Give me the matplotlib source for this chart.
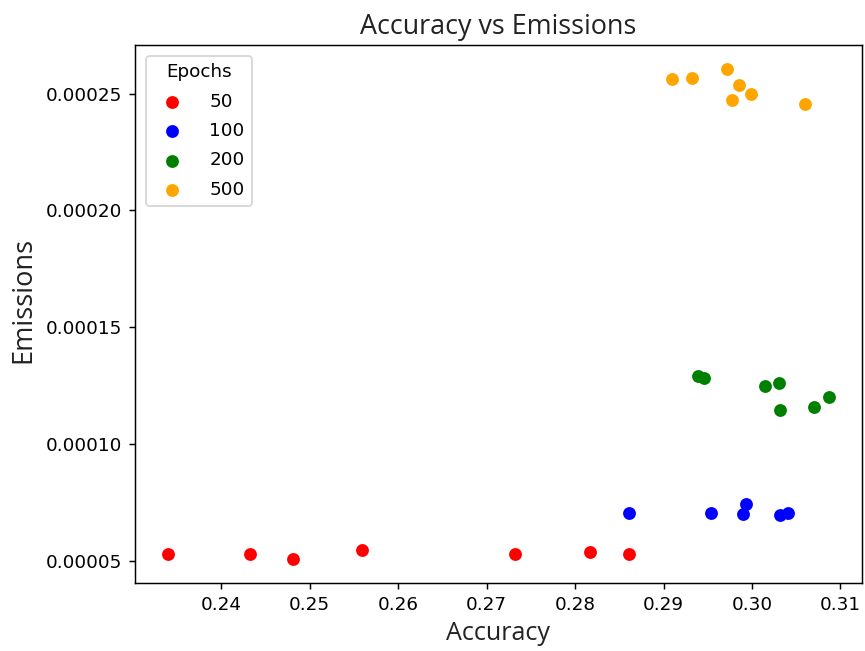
import matplotlib
matplotlib.use("Agg")
import matplotlib.pyplot as plt

epochs = ["50", "100", "200", "500"]
colors = ["red", "blue", "green", "orange"]

acc_50 = [0.2340, 0.2433, 0.2481, 0.2559, 0.2732, 0.2817, 0.2861]
em_50 = [5.29e-5, 5.29e-5, 5.10e-5, 5.46e-5, 5.29e-5, 5.40e-5, 5.29e-5]

acc_100 = [0.2861, 0.2954, 0.2990, 0.2993, 0.3032, 0.3041]
em_100 = [7.03e-5, 7.03e-5, 7.02e-5, 7.44e-5, 6.97e-5, 7.04e-5]

acc_200 = [0.2939, 0.2946, 0.3015, 0.3031, 0.3032, 0.3070, 0.3087]
em_200 = [1.290e-4, 1.281e-4, 1.247e-4, 1.260e-4, 1.147e-4, 1.158e-4, 1.200e-4]

acc_500 = [0.2910, 0.2932, 0.2972, 0.2985, 0.2977, 0.2999, 0.3060]
em_500 = [2.562e-4, 2.568e-4, 2.603e-4, 2.538e-4, 2.471e-4, 2.496e-4, 2.454e-4]

series = [(acc_50, em_50), (acc_100, em_100), (acc_200, em_200), (acc_500, em_500)]

xticks = [0.24, 0.25, 0.26, 0.27, 0.28, 0.29, 0.30, 0.31]
xticklabels = ["0.24", "0.25", "0.26", "0.27", "0.28", "0.29", "0.30", "0.31"]
yticks = [0.00005, 0.00010, 0.00015, 0.00020, 0.00025]
yticklabels = ["0.00005", "0.00010", "0.00015", "0.00020", "0.00025"]

dpi = 132
fig = plt.figure(figsize=(865 / dpi, 651 / dpi), dpi=dpi)
ax = fig.add_axes([135 / 865, 1 - 583 / 651, (862 - 135) / 865, (583 - 45) / 651])

for (a, e), lab, c in zip(series, epochs, colors):
    ax.scatter(a, e, color=c, label=lab)

ax.set_xticks(xticks)
ax.set_xticklabels(xticklabels)
ax.set_yticks(yticks)
ax.set_yticklabels(yticklabels)

ax.set_xlabel("Accuracy", family="Open Sans", fontsize=13.7, color="#222222")
ax.set_ylabel("Emissions", family="Open Sans", fontsize=14.8, color="#222222")
ax.yaxis.set_label_coords(-0.134, 0.526)
ax.set_title("Accuracy vs Emissions", family="Open Sans", fontsize=14.7, color="#222222")

ax.legend(title="Epochs", loc="upper left", labelspacing=0.62,
          handletextpad=1.05, borderaxespad=0.6)

fig.savefig("out.png", dpi=dpi)
